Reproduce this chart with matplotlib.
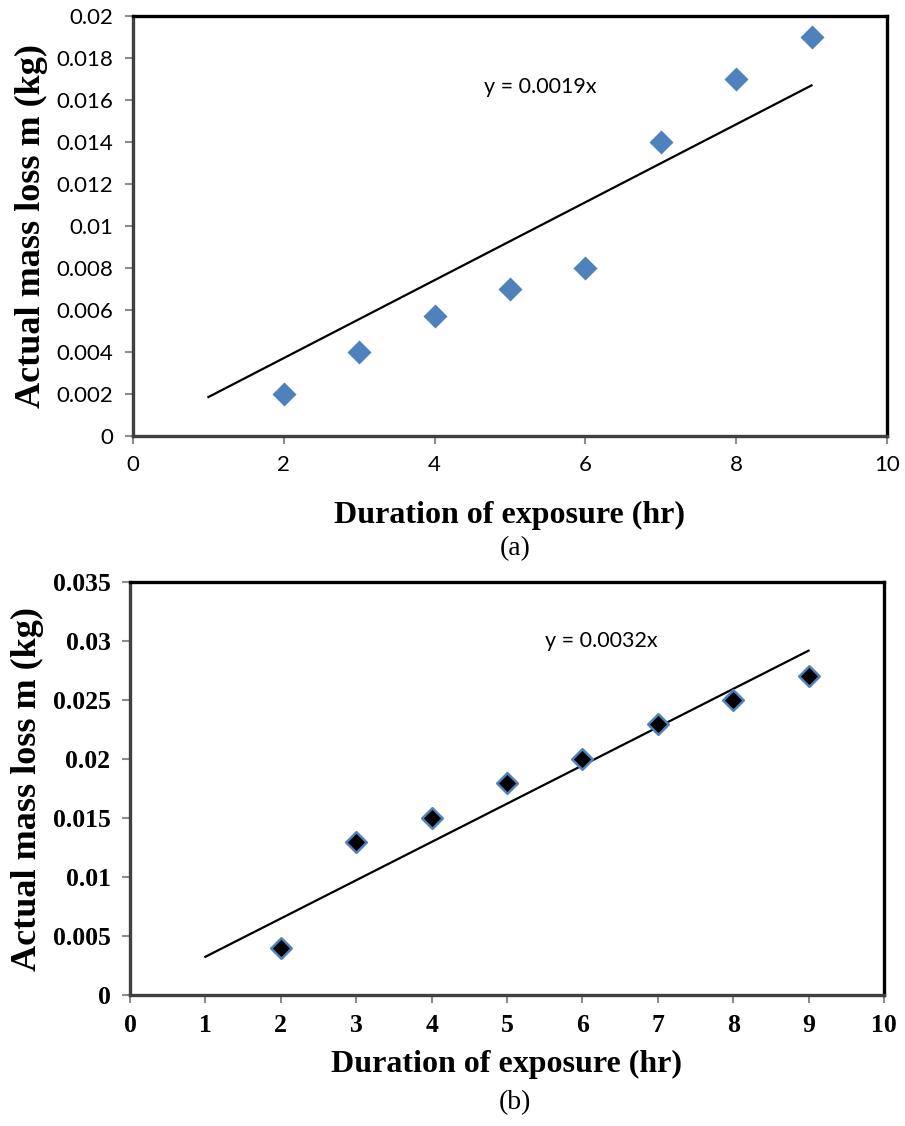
import numpy as np
import matplotlib.pyplot as plt
from matplotlib.ticker import FuncFormatter

# panel (a)
hours_a = [2, 3, 4, 5, 6, 7, 8, 9]
mass_a = [0.002, 0.004, 0.0057, 0.007, 0.008, 0.014, 0.017, 0.019]
# panel (b)
hours_b = [2, 3, 4, 5, 6, 7, 8, 9]
mass_b = [0.004, 0.013, 0.015, 0.018, 0.020, 0.023, 0.025, 0.027]

eq_a = "y = 0.0019x"
eq_b = "y = 0.0032x"
xlabel = "Duration of exposure (hr)"
ylabel = "Actual mass loss m (kg)"

SERIF = "Liberation Serif"
SANS = "Lato"


def fit_origin(x, y):
    # least squares trendline forced through the origin
    x = np.asarray(x, float)
    y = np.asarray(y, float)
    return (x * y).sum() / (x * x).sum()


def style_axes(ax):
    for s in ax.spines.values():
        s.set_color("black")
        s.set_linewidth(2.4)
    ax.spines["left"].set_color("#404040")
    ax.spines["bottom"].set_color("#404040")
    ax.tick_params(direction="out", length=6, width=1.5, color="#8c8c8c", pad=8)


fig = plt.figure(figsize=(9.05, 11.26), dpi=100)

# ---- (a)
ax1 = fig.add_axes([0.147, 0.6128, 0.833, 0.373])
ax1.scatter(hours_a, mass_a, marker="D", s=150, color="#4f81bd", zorder=3, linewidths=0)
k = fit_origin(hours_a, mass_a)
xf = np.array([1, 9])
ax1.plot(xf, k * xf, color="black", lw=1.6, zorder=2)
ax1.set_xlim(0, 10)
ax1.set_ylim(0, 0.02)
ax1.set_xticks(np.arange(0, 11, 2))
ax1.set_yticks(np.arange(0, 0.0201, 0.002))
ax1.yaxis.set_major_formatter(FuncFormatter(lambda v, p: f"{v:g}"))
style_axes(ax1)
for lab in ax1.get_xticklabels() + ax1.get_yticklabels():
    lab.set_fontfamily(SANS)
    lab.set_fontsize(16)
ax1.text(4.65, 0.0166, eq_a, fontfamily=SANS, fontsize=15.5, va="center")
ax1.set_xlabel(xlabel, fontfamily=SERIF, fontweight="bold", fontsize=23, labelpad=18)
ax1.set_ylabel(ylabel, fontfamily=SERIF, fontweight="bold", fontsize=26, labelpad=6)
fig.text(0.569, 0.513, "(a)", fontfamily=SERIF, fontsize=20, ha="center", va="center")

# ---- (b)
ax2 = fig.add_axes([0.1436, 0.1163, 0.8332, 0.3668])
ax2.scatter(hours_b, mass_b, marker="D", s=110, color="black", edgecolors="#4f81bd",
            linewidths=1.8, zorder=3)
k = fit_origin(hours_b, mass_b)
ax2.plot(xf, k * xf, color="black", lw=1.6, zorder=2)
ax2.set_xlim(0, 10)
ax2.set_ylim(0, 0.035)
ax2.set_xticks(np.arange(0, 11, 1))
ax2.set_yticks(np.arange(0, 0.0351, 0.005))
ax2.yaxis.set_major_formatter(FuncFormatter(lambda v, p: f"{v:g}"))
style_axes(ax2)
for lab in ax2.get_xticklabels() + ax2.get_yticklabels():
    lab.set_fontfamily(SERIF)
    lab.set_fontweight("bold")
    lab.set_fontsize(18.5)
ax2.text(5.5, 0.030, eq_b, fontfamily=SANS, fontsize=15.5, va="center")
ax2.set_xlabel(xlabel, fontfamily=SERIF, fontweight="bold", fontsize=23, labelpad=9)
ax2.set_ylabel(ylabel, fontfamily=SERIF, fontweight="bold", fontsize=26, labelpad=6)
fig.text(0.569, 0.021, "(b)", fontfamily=SERIF, fontsize=20, ha="center", va="center")

fig.savefig("out.png", dpi=100)
